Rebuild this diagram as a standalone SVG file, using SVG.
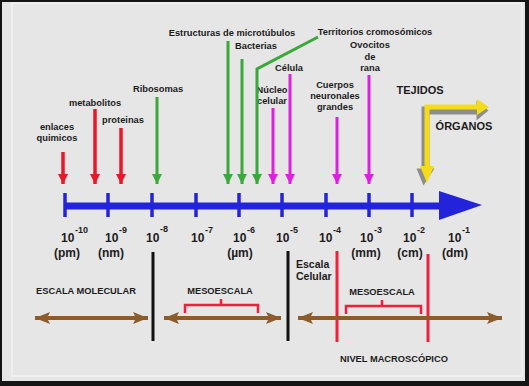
<svg xmlns="http://www.w3.org/2000/svg" width="529" height="386" viewBox="0 0 529 386">
<defs>
<style>
text{font-family:"Liberation Sans",Arial,sans-serif;font-weight:bold;fill:#1c1c1c}
.s9{font-size:9.3px}
.s10{font-size:10.5px}
.s11{font-size:11px}
.n{font-size:12px}
.sup{font-size:9px}
.u{font-size:12px}
.red{stroke:#e8182a;stroke-width:3.5;fill:none}
.grn{stroke:#3aa83a;stroke-width:3;fill:none}
.mag{stroke:#e020e0;stroke-width:3;fill:none}
.brn{stroke:#8c5c2a;stroke-width:4;fill:none}
.blk{stroke:#111;stroke-width:3}
.rv{stroke:#f0203a;stroke-width:3}
.brace{stroke:#f0203a;stroke-width:2.5;fill:none}
</style>
<marker id="hr" markerUnits="userSpaceOnUse" markerWidth="12" markerHeight="12" refX="10" refY="6" orient="auto"><path d="M0,1 L10,6 L0,11 Z" fill="#e8182a"/></marker>
<marker id="hg" markerUnits="userSpaceOnUse" markerWidth="12" markerHeight="12" refX="10" refY="6" orient="auto"><path d="M0,1 L10,6 L0,11 Z" fill="#3aa83a"/></marker>
<marker id="hm" markerUnits="userSpaceOnUse" markerWidth="12" markerHeight="12" refX="10" refY="6" orient="auto"><path d="M0,1 L10,6 L0,11 Z" fill="#e020e0"/></marker>
<marker id="hb" markerUnits="userSpaceOnUse" markerWidth="16" markerHeight="14" refX="15" refY="7" orient="auto-start-reverse"><path d="M0,1 L15,7 L0,13 L3,7 Z" fill="#8c5c2a"/></marker>
</defs>
<rect x="0" y="0" width="529" height="386" fill="#151515"/>
<rect x="2" y="2" width="523" height="379" fill="#e6e6e6"/>
<rect x="12" y="3" width="510" height="373" fill="none" stroke="#efefef" stroke-width="2"/>

<g id="axis">
<line x1="65" y1="206" x2="442" y2="206" stroke="#2323dc" stroke-width="7"/>
<path d="M439,191 L482,205 L439,220 Z" fill="#2323dc"/>
<g stroke="#2323dc" stroke-width="3.5">
<line x1="65" y1="193" x2="65" y2="217"/>
<line x1="108" y1="193" x2="108" y2="217"/>
<line x1="152" y1="193" x2="152" y2="217"/>
<line x1="196" y1="193" x2="196" y2="217"/>
<line x1="239" y1="193" x2="239" y2="217"/>
<line x1="282" y1="193" x2="282" y2="217"/>
<line x1="326" y1="193" x2="326" y2="217"/>
<line x1="369" y1="193" x2="369" y2="217"/>
<line x1="412" y1="193" x2="412" y2="217"/>
</g>
</g>

<g id="scale-labels">
<text class="n" x="61" y="242">10</text><text class="sup" x="75" y="233">-10</text>
<text class="n" x="105" y="242">10</text><text class="sup" x="119" y="233">-9</text>
<text class="n" x="146" y="242">10</text><text class="sup" x="160" y="232">-8</text>
<text class="n" x="191" y="242">10</text><text class="sup" x="205" y="233">-7</text>
<text class="n" x="233" y="242">10</text><text class="sup" x="247" y="233">-6</text>
<text class="n" x="276" y="242">10</text><text class="sup" x="290" y="233">-5</text>
<text class="n" x="319" y="242">10</text><text class="sup" x="333" y="233">-4</text>
<text class="n" x="360" y="242">10</text><text class="sup" x="374" y="233">-3</text>
<text class="n" x="403" y="242">10</text><text class="sup" x="417" y="233">-2</text>
<text class="n" x="448" y="242">10</text><text class="sup" x="462" y="233">-1</text>
<g text-anchor="middle">
<text class="u" x="67" y="257">(pm)</text>
<text class="u" x="111" y="257">(nm)</text>
<text class="u" x="240" y="257">(µm)</text>
<text class="u" x="366" y="257">(mm)</text>
<text class="u" x="410" y="257">(cm)</text>
<text class="u" x="455" y="257">(dm)</text>
</g>
</g>

<g id="n-enlaces" text-anchor="middle"><text class="s9" x="57" y="130">enlaces</text><text class="s9" x="57" y="141">quimicos</text></g>
<g id="n-metabolitos" text-anchor="middle"><text class="s9" x="95" y="106">metabolitos</text></g>
<g id="n-proteinas" text-anchor="middle"><text class="s9" x="123" y="123">proteinas</text></g>
<g id="n-ribosomas" text-anchor="middle"><text class="s9" x="158" y="92">Ribosomas</text></g>
<g id="n-microtubulos" text-anchor="middle"><text class="s9" x="232" y="36">Estructuras de microtúbulos</text></g>
<g id="n-bacterias" text-anchor="middle"><text class="s9" x="256" y="49">Bacterias</text></g>
<g id="n-territorios" text-anchor="middle"><text class="s9" x="375" y="35">Territorios cromosómicos</text></g>
<g id="n-celula" text-anchor="middle"><text class="s9" x="289" y="71">Célula</text></g>
<g id="n-nucleo" text-anchor="middle"><text class="s9" x="272" y="93">Núcleo</text><text class="s9" x="272" y="104">celular</text></g>
<g id="n-cuerpos" text-anchor="middle"><text class="s9" x="335" y="88">Cuerpos</text><text class="s9" x="335" y="99">neuronales</text><text class="s9" x="335" y="110">grandes</text></g>
<g id="n-ovocitos" text-anchor="middle"><text class="s9" x="370" y="48">Ovocitos</text><text class="s9" x="370" y="60">de</text><text class="s9" x="370" y="71">rana</text></g>
<g id="n-tejidos" text-anchor="middle"><text class="s11" x="420" y="94">TEJIDOS</text></g>
<g id="n-organos" text-anchor="middle"><text class="s11" x="464" y="130">ÓRGANOS</text></g>

<g id="n-escala-molecular" text-anchor="middle"><text class="s9" x="86" y="294">ESCALA MOLECULAR</text></g>
<g id="n-mesoescala-1" text-anchor="middle"><text class="s9" x="220" y="294">MESOESCALA</text></g>
<g id="n-escala-celular"><text class="s10" x="296" y="268">Escala</text><text class="s10" x="296" y="280">Celular</text></g>
<g id="n-mesoescala-2" text-anchor="middle"><text class="s9" x="382" y="295">MESOESCALA</text></g>
<g id="n-macroscopico" text-anchor="middle"><text class="s9" x="394" y="362">NIVEL MACROSCÓPICO</text></g>

<g id="connectors">
<line class="red" x1="63" y1="152" x2="63" y2="184" marker-end="url(#hr)"/>
<line class="red" x1="95" y1="109" x2="95" y2="184" marker-end="url(#hr)"/>
<line class="red" x1="121" y1="128" x2="121" y2="184" marker-end="url(#hr)"/>
<line class="grn" x1="157" y1="97" x2="157" y2="184" marker-end="url(#hg)"/>
<line class="grn" x1="228" y1="41" x2="228" y2="184" marker-end="url(#hg)"/>
<line class="grn" x1="242" y1="59" x2="242" y2="184" marker-end="url(#hg)"/>
<polyline class="grn" points="318,37 257,69 257,184" marker-end="url(#hg)"/>
<line class="mag" x1="273" y1="108" x2="273" y2="184" marker-end="url(#hm)"/>
<line class="mag" x1="290" y1="74" x2="290" y2="184" marker-end="url(#hm)"/>
<line class="mag" x1="337" y1="117" x2="337" y2="184" marker-end="url(#hm)"/>
<line class="mag" x1="369" y1="75" x2="369" y2="184" marker-end="url(#hm)"/>

<g id="yellow-arrow">
<path d="M425,184 L418,167 L423,167 L423,105 L478,105 L478,99 L490,109 L478,119 L478,113 L431,113 L431,167 L436,167 Z" fill="#444" opacity="0.55" transform="translate(-1.5,1.5)"/>
<polyline points="427,168 427,107 479,107" fill="none" stroke="#f4dc1a" stroke-width="5"/>
<path d="M420,166 L434,166 L427,183 Z" fill="#f4dc1a"/>
<path d="M477,99 L489,107 L477,115 Z" fill="#f4dc1a"/>
</g>

<line class="blk" x1="153" y1="252" x2="153" y2="341"/>
<line class="blk" x1="288" y1="251" x2="288" y2="341"/>
<line class="rv" x1="337" y1="251" x2="337" y2="342"/>
<line class="rv" x1="428" y1="254" x2="428" y2="342"/>

<line class="brn" x1="35" y1="318" x2="148" y2="318" marker-start="url(#hb)" marker-end="url(#hb)"/>
<line class="brn" x1="164" y1="318" x2="281" y2="318" marker-start="url(#hb)" marker-end="url(#hb)"/>
<line class="brn" x1="298" y1="318" x2="502" y2="318" marker-start="url(#hb)" marker-end="url(#hb)"/>

<path class="brace" d="M185,313 L185,305 L221,305 L221,299 M221,305 L258,305 L258,313"/>
<path class="brace" d="M346,314 L346,306 L382,306 L382,300 M382,306 L421,306 L421,314"/>
</g>
</svg>
